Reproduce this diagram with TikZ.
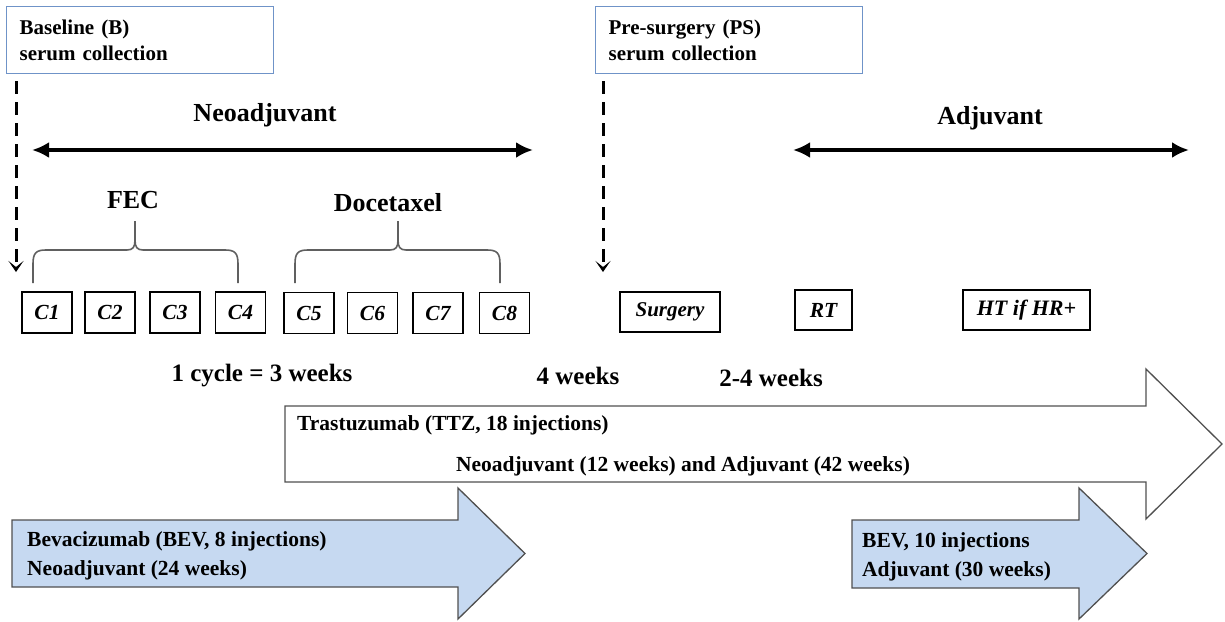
\documentclass[tikz,border=0pt]{standalone}
\usepackage{fontspec}
\setmainfont{Liberation Serif}
\usetikzlibrary{arrows.meta}
\definecolor{boxblue}{HTML}{6F93C8}
\definecolor{bevfill}{HTML}{C6D9F1}
\definecolor{bordergray}{HTML}{505050}
\definecolor{bracegray}{HTML}{606060}
\tikzset{
  topbox/.style={draw=boxblue, line width=1.2pt, anchor=north west, minimum width=267pt, minimum height=67pt,
    text width=241pt, inner xsep=13pt, align=left, font=\fontsize{21}{26}\selectfont\bfseries},
  cbox/.style={draw=black, line width=1.1pt, minimum width=50pt, minimum height=41pt, inner sep=0pt,
    font=\fontsize{21.5}{24}\selectfont\bfseries\itshape},
  dasharrow/.style={line width=3pt, dash pattern=on 13pt off 8pt, -{Stealth[length=11pt,width=15pt,inset=6pt]}},
  dblarrow/.style={line width=4.5pt, {Latex[length=17pt,width=16pt]}-{Latex[length=17pt,width=16pt]}},
  bigtitle/.style={font=\fontsize{26}{30}\selectfont\bfseries},
  weeks/.style={font=\fontsize{25}{30}\selectfont\bfseries},
  brace/.style={draw=bracegray, line width=1.6pt},
  ttzarrow/.style={draw=bordergray, line width=1.3pt, fill=white},
  bevarrow/.style={draw=bordergray, line width=1.3pt, fill=bevfill},
  arrowtext/.style={anchor=west, align=left, inner sep=0pt, font=\fontsize{21.5}{29.5}\selectfont\bfseries},
}
\begin{document}
\begin{tikzpicture}[x=1pt,y=-1pt]
\useasboundingbox (0,0) rectangle (1225,621);

% top boxes
\node[topbox] (B) at (6,6) {Baseline (B)\\serum collection};
\node[topbox] (PS) at (595,6) {Pre-surgery (PS)\\serum collection};
\coordinate (Bend) at (16,272);
\coordinate (PSend) at (603,272);
\draw[dasharrow] (B.south west -| Bend) ++(0,7) -- (Bend);
\draw[dasharrow] (PS.south west -| PSend) ++(0,7) -- (PSend);

% phase arrows
\coordinate (neoL) at (32,150);
\coordinate (neoR) at (533,150);
\coordinate (adjL) at (793,150);
\coordinate (adjR) at (1189,150);
\draw[dblarrow] (neoL) -- (neoR);
\draw[dblarrow] (adjL) -- (adjR);
\node[bigtitle] (neo) at (265,115) {Neoadjuvant};
\node[bigtitle] (adj) at (990,118) {Adjuvant};

% cycles
\node[cbox] (C1) at (47,312.5) {C1};
\node[cbox] (C2) at (110,312.5) {C2};
\node[cbox] (C3) at (175,312.5) {C3};
\node[cbox] (C4) at (240.5,312.5) {C4};
\node[cbox] (C5) at (309,313) {C5};
\node[cbox] (C6) at (372.5,313) {C6};
\node[cbox] (C7) at (438,313) {C7};
\node[cbox] (C8) at (504.5,313) {C8};

\node[cbox, minimum width=100pt, minimum height=40pt, font=\fontsize{21}{24}\selectfont\bfseries\itshape] (S) at (670,312) {Surgery};
\node[cbox, minimum width=57pt, minimum height=40pt] (RT) at (823.5,310) {RT};
\node[cbox, minimum width=127pt, minimum height=40pt, font=\fontsize{22}{24}\selectfont\bfseries\itshape] (HT) at (1026.5,310) {HT if HR+};

% braces
\node[bigtitle] (FEC) at (133,200) {FEC};
\node[bigtitle] (DOC) at (388,203) {Docetaxel};
\draw[brace] (33,283) -- (33,264) .. controls (33,253) and (36,250) .. (46,250) -- (127,250)
  .. controls (133,250) and (135,247) .. (135,240) -- (135,221);
\draw[brace] (135,240) .. controls (135,247) and (137,250) .. (143,250) -- (225,250)
  .. controls (235,250) and (238,253) .. (238,264) -- (238,283);
\draw[brace] (295,283) -- (295,264) .. controls (295,253) and (298,250) .. (308,250) -- (390,250)
  .. controls (396,250) and (398,247) .. (398,240) -- (398,221);
\draw[brace] (398,240) .. controls (398,247) and (400,250) .. (406,250) -- (487,250)
  .. controls (497,250) and (500,253) .. (500,264) -- (500,283);

% durations
\node[weeks] (cyc) at (262,376) {1 cycle = 3 weeks};
\node[weeks] (w4) at (578,376) {4 weeks};
\node[weeks] (w24) at (771,378) {2-4 weeks};

% trastuzumab arrow
\draw[ttzarrow] (285,406) -- (1146,406) -- (1146,369) -- (1222,444) -- (1146,519) -- (1146,482) -- (285,482) -- cycle;
\node[arrowtext] (ttz1) at (297,425) {Trastuzumab (TTZ, 18 injections)};
\node[font=\fontsize{21.5}{29}\selectfont\bfseries] (ttz2) at (683,466) {Neoadjuvant (12 weeks) and Adjuvant (42 weeks)};

% BEV arrows
\draw[bevarrow] (12,520) -- (458,520) -- (458,488) -- (525,553.5) -- (458,619) -- (458,587) -- (12,587) -- cycle;
\node[arrowtext] (bev1) at (27,556) {Bevacizumab (BEV, 8 injections)\\Neoadjuvant (24 weeks)};
\draw[bevarrow] (852,520) -- (1079,520) -- (1079,488) -- (1147,553.5) -- (1079,619) -- (1079,588) -- (852,588) -- cycle;
\node[arrowtext] (bev2) at (862,557) {BEV, 10 injections\\Adjuvant (30 weeks)};
\end{tikzpicture}
\end{document}
